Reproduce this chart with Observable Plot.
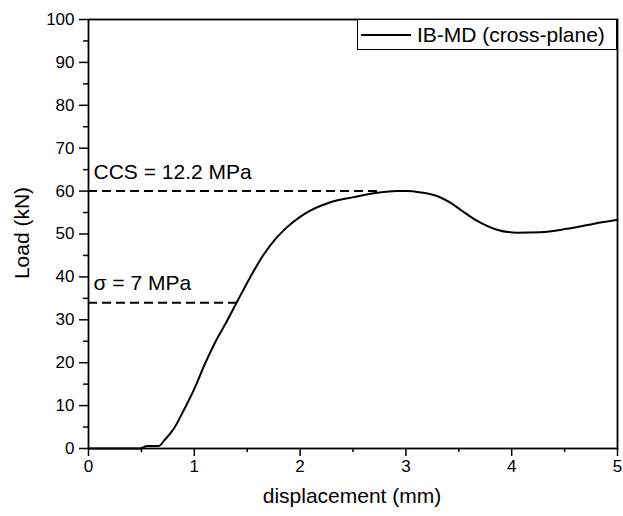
<!DOCTYPE html>
<html>
<head>
<meta charset="utf-8">
<script src="https://cdn.jsdelivr.net/npm/d3@7"></script>
<script src="https://cdn.jsdelivr.net/npm/@observablehq/plot@0.6"></script>
<style>
  html, body { margin: 0; padding: 0; background: #fff; }
  #wrap { position: relative; width: 623px; height: 516px; font-family: "Liberation Sans", Arial, sans-serif; }
  #legend { position: absolute; left: 357px; top: 19px; width: 260px; height: 31px; box-sizing: border-box;
            border: 1.5px solid #000; background: #fff; display: flex; align-items: center; font-size: 21px; }
  #legend .sw { width: 50px; height: 0; border-top: 2px solid #000; margin: 0 6px 0 3px; }
</style>
</head>
<body>
<div id="wrap"></div>
<script>
// Displacement (mm) and load (kN)
const displacement = [0, 0.3, 0.49, 0.555, 0.6, 0.665, 0.72, 0.806, 0.90, 1.0, 1.1, 1.2, 1.3, 1.4, 1.53, 1.65, 1.77, 1.877, 2.0, 2.1, 2.287, 2.51, 2.73, 2.917, 3.0, 3.14, 3.3, 3.42, 3.52, 3.67, 3.86, 4.05, 4.27, 4.52, 4.78, 5.0];
const load =         [0, 0,   0,    0.6,   0.6, 0.6,   2.0,  4.6,  8.9,  13.9, 19.7, 24.9, 29.3, 34.0, 40.0, 45.0, 48.9, 51.6, 54.0, 55.5, 57.4, 58.6, 59.6, 60.0, 60.0, 59.7, 58.8, 57.3, 55.6, 53.1, 51.0, 50.3, 50.4, 51.2, 52.4, 53.3];

// Reference levels (dashed lines) and their labels
const refLabels = ["CCS = 12.2 MPa", "σ = 7 MPa"];
const refLoads = [60, 34];
const refEnds = [2.76, 1.41];

const xTicks = [0, 1, 2, 3, 4, 5];
const xMinor = [0.5, 1.5, 2.5, 3.5, 4.5];
const yTicks = [0, 10, 20, 30, 40, 50, 60, 70, 80, 90, 100];
const yMinor = [5, 15, 25, 35, 45, 55, 65, 75, 85, 95];

const seriesName = "IB-MD (cross-plane)";

const curve = displacement.map((d, i) => ({x: d, y: load[i]}));
const refs = refLabels.map((t, i) => ({text: t, y: refLoads[i], x1: 0, x2: refEnds[i]}));

const chart = Plot.plot({
  width: 623,
  height: 516,
  marginLeft: 88,
  marginRight: 6,
  marginTop: 19,
  marginBottom: 68,
  style: {fontFamily: "'Liberation Sans', Arial, sans-serif", fontSize: "17px", color: "#000", background: "#fff", overflow: "visible"},
  x: {domain: [0, 5]},
  y: {domain: [0, 100]},
  marks: [
    Plot.ruleY(refs, {y: "y", x1: "x1", x2: "x2", stroke: "#000", strokeWidth: 2, strokeDasharray: "9,5"}),
    Plot.text(refs, {x: "x1", y: "y", text: "text", textAnchor: "start", dx: 5, dy: -19, fontSize: 21}),
    Plot.line(curve, {x: "x", y: "y", stroke: "#000", strokeWidth: 2, curve: "monotone-x"}),
    Plot.axisX({ticks: xTicks, tickSize: 8, tickPadding: 3, tickFormat: d => String(d), fontSize: 17, label: null, strokeWidth: 1.5}),
    Plot.axisX({ticks: xMinor, tickSize: 4, text: null, label: null, strokeWidth: 1.5}),
    Plot.axisY({ticks: yTicks, tickSize: 9, tickPadding: 5, tickFormat: d => String(d), fontSize: 17, label: null, strokeWidth: 1.5}),
    Plot.axisY({ticks: yMinor, tickSize: 5, text: null, label: null, strokeWidth: 1.5}),
    Plot.frame({stroke: "#000", strokeWidth: 1.8})
  ]
});

const wrap = document.getElementById("wrap");
wrap.appendChild(chart);

// Axis titles as SVG text
const svg = d3.select(chart);
svg.append("text").attr("x", 352).attr("y", 503).attr("text-anchor", "middle")
  .attr("font-size", 21).attr("fill", "#000").text("displacement (mm)");
svg.append("text").attr("transform", "translate(29,233) rotate(-90)").attr("text-anchor", "middle")
  .attr("font-size", 21).attr("fill", "#000").text("Load (kN)");

// Legend
const lg = document.createElement("div");
lg.id = "legend";
lg.innerHTML = '<span class="sw"></span><span>' + seriesName + '</span>';
wrap.appendChild(lg);
</script>
</body>
</html>
